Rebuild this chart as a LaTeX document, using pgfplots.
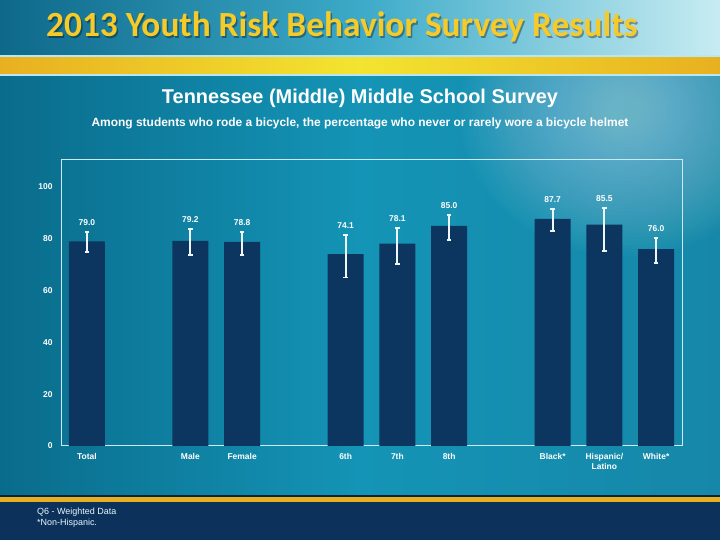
\documentclass[border=0pt]{standalone}
\usepackage{pgfplots}
\pgfplotsset{compat=1.18}
\usepackage{pgfplotstable}
\usepackage{fontspec}
\setmainfont{Liberation Sans}
\newfontfamily\titlefont{Carlito}
\definecolor{navy}{RGB}{12,50,92}
\definecolor{barnavy}{RGB}{12,54,96}
\definecolor{tealL}{RGB}{10,108,140}
\definecolor{tealM}{RGB}{20,148,182}
\definecolor{tealR}{RGB}{22,135,168}
\definecolor{glow}{RGB}{185,230,240}
\definecolor{bandL}{RGB}{14,104,138}
\definecolor{bandM}{RGB}{60,170,200}
\definecolor{bandR}{RGB}{200,236,242}
\definecolor{gold}{RGB}{232,176,32}
\definecolor{goldM}{RGB}{243,228,48}
\definecolor{titleyellow}{RGB}{246,202,40}
\definecolor{errw}{RGB}{238,246,250}
\definecolor{framec}{RGB}{205,234,243}

\pgfplotstableread{
x  y    ep   em    hi    lbl
0  79.0 3.6  4.1   82.6  79.0
2  79.2 4.6  5.5   83.8  79.2
3  78.8 3.8  5.1   82.6  78.8
5  74.1 7.4  9.1   81.5  74.1
6  78.1 6.1  7.8   84.2  78.1
7  85.0 4.2  5.5   89.2  85.0
9  87.7 3.8  4.7   91.5  87.7
10 85.5 6.4  10.2  91.9  85.5
11 76.0 4.3  5.3   80.3  76.0
}\datatable

\begin{document}
\begin{tikzpicture}
\useasboundingbox (0,0) rectangle (720bp,540bp);
\begin{scope}[x=1bp,y=-1bp,shift={(0,540bp)}]
  \clip (0,0) rectangle (720,540);
  % main background
  \shade[left color=tealL, right color=tealR, middle color=tealM] (0,75) rectangle (720,497);
  \begin{scope}
    \clip (0,76) rectangle (720,495);
    \foreach \i in {1,...,36} {
      \fill[glow, opacity=0.022] (625,110) ellipse ({170*(1-\i/40)} and {150*(1-\i/40)});
    }
  \end{scope}
  % title band
  \shade[left color=bandL, right color=bandR, middle color=bandM] (0,0) rectangle (720,56);
  \fill[glow] (0,55) rectangle (720,57.5);
  \shade[left color=gold, right color=gold, middle color=goldM] (0,57.5) rectangle (720,74);
  \fill[glow] (0,74) rectangle (720,76);
  % footer
  \fill[navy!70!black] (0,495) rectangle (720,497);
  \fill[gold] (0,497) rectangle (720,502);
  \fill[navy] (0,502) rectangle (720,540);
  % texts
  \node[anchor=base west, inner sep=0pt, text=black, opacity=0.35, font=\titlefont\bfseries\fontsize{35.5}{35.5}\selectfont] at (47.5,38.5) {2013 Youth Risk Behavior Survey Results};
  \node[anchor=base west, inner sep=0pt, text=titleyellow, font=\titlefont\bfseries\fontsize{35.5}{35.5}\selectfont] at (46,37) {2013 Youth Risk Behavior Survey Results};
  \node[anchor=base, text=white, font=\bfseries\fontsize{20}{20}\selectfont] at (360,104) {Tennessee (Middle) Middle School Survey};
  \node[anchor=base, text=white, font=\bfseries\fontsize{12}{12}\selectfont] at (360,126.5) {Among students who rode a bicycle, the percentage who never or rarely wore a bicycle helmet};
  \node[anchor=base west, inner sep=0pt, text=white!90!cyan, font=\fontsize{9}{9}\selectfont] at (37,514.5) {Q6 - Weighted Data};
  \node[anchor=base west, inner sep=0pt, text=white!90!cyan, font=\fontsize{9}{9}\selectfont] at (37,525.5) {*Non-Hispanic.};
\end{scope}
\begin{axis}[
  at={(61bp,94bp)}, anchor=south west,
  width=621bp, height=286bp, scale only axis,
  xmin=-0.5, xmax=11.5, ymin=0, ymax=110.4,
  axis line style={draw=framec, line width=1bp},
  tick style={draw=none},
  major tick length=0pt,
  ytick={0,20,40,60,80,100},
  /pgf/number format/assume math mode=true,
  yticklabel style={font=\bfseries\fontsize{8.5}{9}\selectfont, text=white, xshift=-5bp},
  xtick={0,2,3,5,6,7,9,10,11},
  xticklabels={Total,Male,Female,6th,7th,8th,Black*,Hispanic/\\Latino,White*},
  xticklabel style={align=center, font=\bfseries\fontsize{8.5}{10}\selectfont, text=white, yshift=-4bp},
]
\addplot[ybar, bar width=36bp, fill=barnavy, draw=none,
  error bars/.cd, y dir=both, y explicit,
  error bar style={errw, line width=1.8bp},
  error mark options={errw, rotate=90, mark size=2.2bp, line width=1.5bp}]
  table[x=x, y=y, y error plus=ep, y error minus=em] {\datatable};
\addplot[draw=none, mark=none, nodes near coords, point meta=explicit symbolic,
  every node near coord/.style={anchor=south, inner sep=0pt, yshift=6.5bp, text=white, font=\bfseries\fontsize{8.5}{9}\selectfont}]
  table[x=x, y=hi, meta=lbl] {\datatable};
\end{axis}
\end{tikzpicture}
\end{document}
